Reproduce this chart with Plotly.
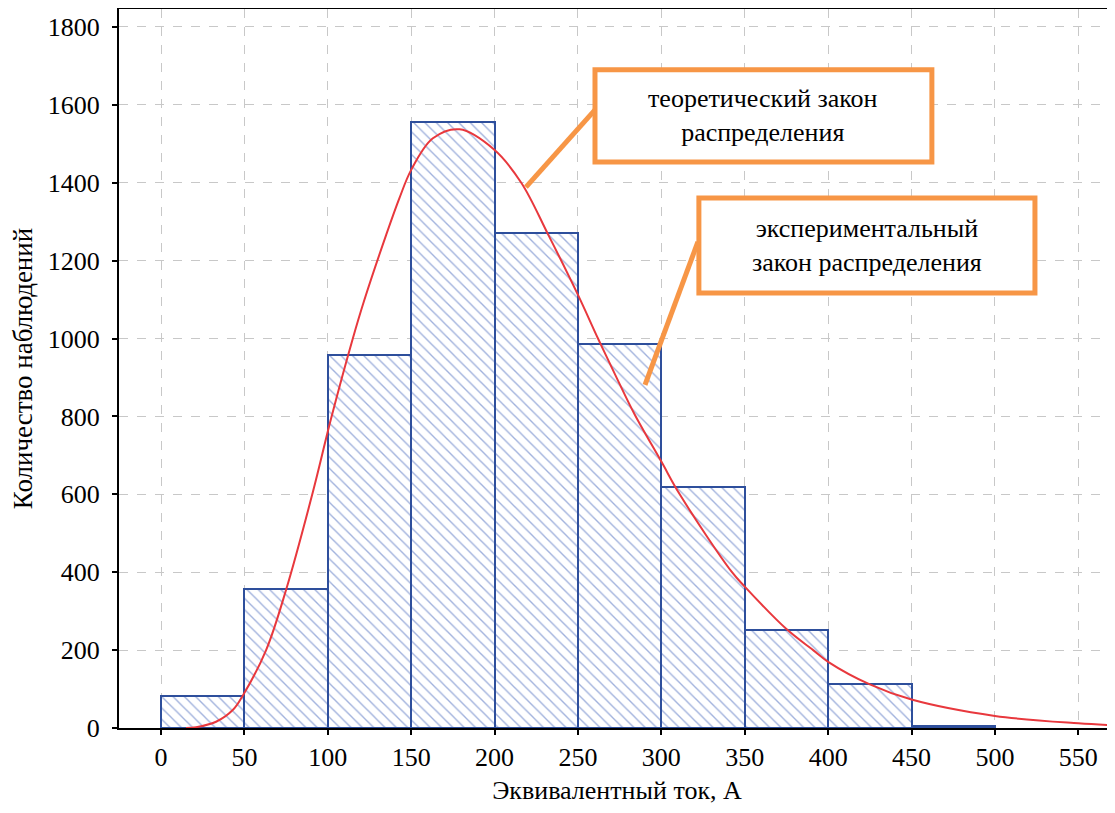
import plotly.graph_objects as go

# Histogram data (experimental distribution)
bin_left = [0, 50, 100, 150, 200, 250, 300, 350, 400, 450]
bin_width = 50
counts = [83, 357, 957, 1555, 1270, 987, 620, 252, 113, 4]

# Theoretical distribution curve
curve_x = [15, 21, 33, 43, 49, 63, 75, 91, 102, 115, 122, 135, 143, 150, 163,
           179, 200, 216, 232, 250, 262, 274, 284, 300, 311, 342, 350,
           375, 391, 400, 425, 450, 500, 550, 572]
curve_y = [0, 2, 16, 46, 83, 200, 355, 605, 795, 1000, 1100, 1266, 1361, 1433, 1514,
           1537, 1484, 1400, 1268, 1112, 1000, 892, 805, 684, 600, 402, 363,
           254, 200, 170, 112, 73, 31, 12, 7]

x_ticks = [0, 50, 100, 150, 200, 250, 300, 350, 400, 450, 500, 550]
y_ticks = [0, 200, 400, 600, 800, 1000, 1200, 1400, 1600, 1800]

x_title = "Эквивалентный ток, А"
y_title = "Количество наблюдений"
label_theory = "теоретический закон<br>распределения"
label_exper = "экспериментальный<br>закон распределения"

FONT = "Liberation Serif, Times New Roman, DejaVu Serif, serif"
BLUE = "#2E4F9C"
ORANGE = "#F79646"
RED = "#E8383D"

fig = go.Figure()
fig.add_trace(go.Bar(
    x=[b + bin_width / 2 for b in bin_left], y=counts, width=bin_width,
    marker=dict(color="white", line=dict(color=BLUE, width=2),
                pattern=dict(shape="\\", fgcolor="#4263BA", bgcolor="white",
                             size=8, solidity=0.17)),
    showlegend=False))
fig.add_trace(go.Scatter(
    x=curve_x, y=curve_y, mode="lines",
    line=dict(color=RED, width=2, shape="spline", smoothing=1.0),
    showlegend=False))

# annotation boxes and leader lines
shapes = [
    dict(type="rect", xref="x", yref="y", x0=260.2, x1=462.2, y0=1453.5, y1=1689.8,
         line=dict(color=ORANGE, width=5), fillcolor="white"),
    dict(type="line", xref="x", yref="y", x0=218.8, y0=1388.5, x1=260.2, y1=1586.9,
         line=dict(color=ORANGE, width=5)),
    dict(type="rect", xref="x", yref="y", x0=322.5, x1=524.0, y0=1117.0, y1=1361.0,
         line=dict(color=ORANGE, width=5), fillcolor="white"),
    dict(type="line", xref="x", yref="y", x0=290.2, y0=880.8, x1=321.9, y1=1248.0,
         line=dict(color=ORANGE, width=5)),
]
annotations = [
    dict(x=361.2, y=1571.6, xref="x", yref="y", text=label_theory, showarrow=False,
         font=dict(family=FONT, size=26, color="black"), align="center"),
    dict(x=423.2, y=1239.0, xref="x", yref="y", text=label_exper, showarrow=False,
         font=dict(family=FONT, size=26, color="black"), align="center"),
]

# the page body has an 8px margin, so the figure is sized to fit the window
fig.update_layout(
    width=1107, height=797,
    margin=dict(l=111, r=0, t=1, b=77),
    plot_bgcolor="white", paper_bgcolor="white",
    font=dict(family=FONT, size=26, color="black"),
    bargap=0, shapes=shapes, annotations=annotations,
)
fig.update_xaxes(
    range=[-25.2, 572], tickvals=x_ticks, ticks="outside", ticklen=5, tickwidth=2,
    tickcolor="black", showline=True, linecolor="black", linewidth=2, mirror="ticks",
    showgrid=True, gridcolor="#C8C8C8", griddash="dash", gridwidth=1, zeroline=False,
    title=dict(text=x_title, font=dict(family=FONT, size=26), standoff=10),
    tickfont=dict(family=FONT, size=26), automargin=False,
)
fig.update_yaxes(
    range=[0, 1846], tickvals=y_ticks, ticks="outside", ticklen=5, tickwidth=2,
    tickcolor="black", showline=True, linecolor="black", linewidth=2,
    showgrid=True, gridcolor="#C8C8C8", griddash="dash", gridwidth=1, zeroline=False,
    title=dict(text=y_title, font=dict(family=FONT, size=27), standoff=12),
    tickfont=dict(family=FONT, size=26), ticklabelstandoff=7, automargin=False,
)

fig.write_html("out.html")
